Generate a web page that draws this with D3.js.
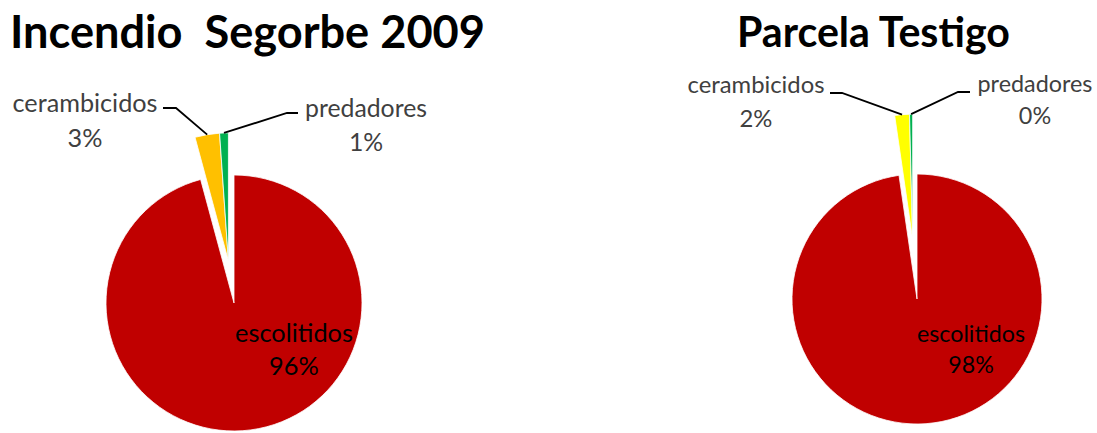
<!DOCTYPE html>
<html>
<head>
<meta charset="utf-8">
<script src="https://cdn.jsdelivr.net/npm/d3@7"></script>
<style>
  html, body { margin: 0; padding: 0; background: #fff; }
  svg { display: block; }
  text { white-space: pre; }
</style>
</head>
<body>
<svg id="chart" width="1097" height="433"></svg>
<script>
// Insect groups caught in the traps (share of total captures)
const categories = ["escolitidos", "cerambicidos", "predadores"];
const titles = ["Incendio  Segorbe 2009", "Parcela Testigo"];
const valuesSegorbe = [95.8, 3.1, 1.1];
const valuesTestigo = [97.7, 1.9, 0.4];
const colorsSegorbe = ["#C00000", "#FFC000", "#00B050"];
const colorsTestigo = ["#C00000", "#FFFF00", "#00B050"];

const svg = d3.select("#chart");
const pct = d3.format(".0%");

// Scale a text's font size so it spans the requested width
function fitWidth(sel, width) {
  const node = sel.node();
  const base = parseFloat(sel.attr("font-size"));
  const w = node.getComputedTextLength();
  sel.attr("font-size", base * width / w);
  return base * width / w;
}

const charts = [
  {
    title: titles[0], values: valuesSegorbe, colors: colorsSegorbe,
    cx: 234, cy: 303, r: 128, explode: 42.5,
    titleX: 10, titleY: 48, titleW: 475,
    labels: [
      { x: 294, y: 342, y2: 375, w: 118, fill: "#000" },
      { x: 85, y: 112, y2: 147, w: 145, fill: "#404040", elbow: [163, 176, 108] },
      { x: 366, y: 117, y2: 151, w: 122, fill: "#404040", elbow: [298, 287, 113] }
    ]
  },
  {
    title: titles[1], values: valuesTestigo, colors: colorsTestigo,
    cx: 917, cy: 299, r: 125, explode: 60,
    titleX: 737, titleY: 47, titleW: 273,
    labels: [
      { x: 971, y: 342, y2: 373, w: 108, fill: "#000" },
      { x: 756, y: 93, y2: 127, w: 137, fill: "#404040", elbow: [830, 842, 93] },
      { x: 1035, y: 92, y2: 124, w: 115, fill: "#404040", elbow: [970, 958, 92] }
    ]
  }
];

charts.forEach(c => {
  const total = d3.sum(c.values);
  const pie = d3.pie().sort(null).value(d => d).startAngle(0).endAngle(2 * Math.PI);
  const arcs = pie(c.values);
  const arc = d3.arc().innerRadius(0).outerRadius(c.r);

  // the two minor groups are pulled out together along their shared bisector
  const minorStart = arcs[1].startAngle;
  const minorEnd = arcs[2].endAngle;
  const mid = (minorStart + minorEnd) / 2;
  const off = [c.explode * Math.sin(mid), -c.explode * Math.cos(mid)];

  const g = svg.append("g").attr("transform", `translate(${c.cx},${c.cy})`);

  g.selectAll("path.slice")
    .data(arcs)
    .join("path")
    .attr("class", "slice")
    .attr("d", arc)
    .attr("transform", (d, i) => i === 0 ? null : `translate(${off[0]},${off[1]})`)
    .attr("fill", (d, i) => c.colors[i])
    .attr("stroke", "#fff")
    .attr("stroke-width", 0.8)
    .attr("stroke-linejoin", "round");

  // Title
  const t = svg.append("text")
    .attr("x", c.titleX).attr("y", c.titleY)
    .attr("font-family", "Lato, 'Open Sans', sans-serif")
    .attr("font-weight", "bold")
    .attr("font-size", 46)
    .attr("fill", "#000")
    .text(c.title);
  fitWidth(t, c.titleW);

  // Data labels
  c.labels.forEach((L, i) => {
    const name = svg.append("text")
      .attr("x", L.x).attr("y", L.y)
      .attr("text-anchor", "middle")
      .attr("font-family", "Lato, 'Open Sans', sans-serif")
      .attr("font-size", 22)
      .attr("fill", L.fill)
      .text(categories[i]);
    const fs = fitWidth(name, L.w);
    svg.append("text")
      .attr("x", L.x).attr("y", L.y2)
      .attr("text-anchor", "middle")
      .attr("font-family", "Lato, 'Open Sans', sans-serif")
      .attr("font-size", fs)
      .attr("fill", L.fill)
      .text(pct(c.values[i] / total));

    if (L.elbow) {
      const a = (arcs[i].startAngle + arcs[i].endAngle) / 2;
      const px = c.cx + off[0] + c.r * Math.sin(a);
      const py = c.cy + off[1] - c.r * Math.cos(a);
      svg.append("polyline")
        .attr("points", [[L.elbow[0], L.elbow[2]], [L.elbow[1], L.elbow[2]], [px, py]].map(p => p.join(",")).join(" "))
        .attr("fill", "none")
        .attr("stroke", "#000")
        .attr("stroke-width", 1.8);
    }
  });
});
</script>
</body>
</html>
